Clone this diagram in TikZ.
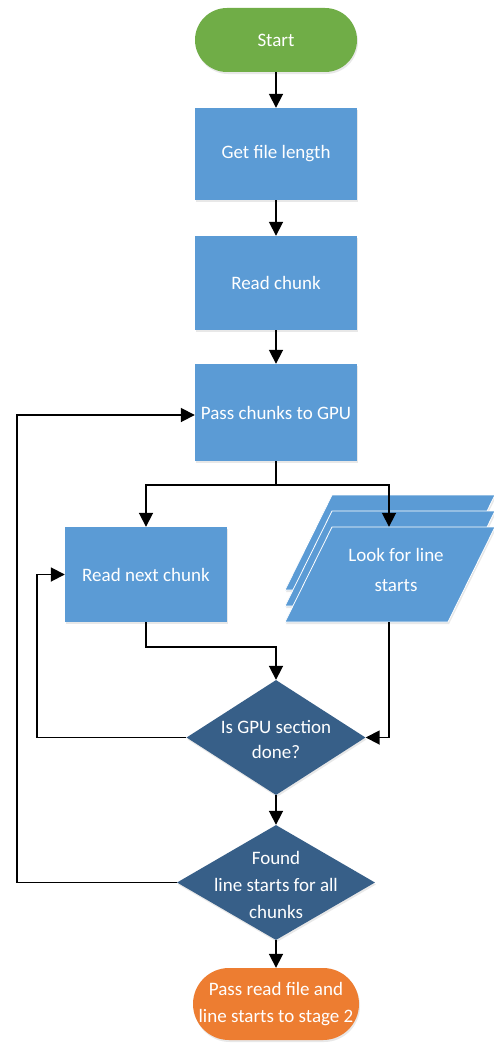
\documentclass[tikz,border=0pt]{standalone}
\usepackage{fontspec}
\setmainfont{Carlito}
\usetikzlibrary{shapes.geometric,arrows.meta,shadows}
\definecolor{cgreen}{HTML}{70AD47}
\definecolor{cblue}{HTML}{5B9BD5}
\definecolor{cdark}{HTML}{375F88}
\definecolor{corange}{HTML}{ED7D31}
\tikzset{
  shd/.style={drop shadow={opacity=0.18,shadow xshift=1pt,shadow yshift=-2pt}},
  txt/.style={text=white,font=\fontsize{19}{27}\selectfont,align=center},
  pill/.style={shd,txt,rectangle,inner sep=0pt},
  boxn/.style={shd,txt,rectangle,fill=cblue,minimum width=162pt,inner sep=0pt},
  dec/.style={shd,diamond,fill=cdark,inner sep=0pt},
  arr/.style={-{Triangle[width=14pt,length=14pt]},line width=1.8pt},
  ln/.style={line width=1.8pt}
}
\begin{document}
\begin{tikzpicture}[x=1pt,y=-1pt]
\useasboundingbox[fill=white] (0,0) rectangle (493,1049);
\node[pill,fill=cgreen,minimum width=162pt,minimum height=64pt,rounded corners=32pt] (start) at (276,40) {Start};
\node[boxn,minimum height=92pt] (gfl) at (276,154) {Get file length};
\node[boxn,minimum height=94pt] (rc) at (276,283) {Read chunk};
\node[boxn,minimum height=97pt] (pass) at (276,412.5) {Pass chunks to GPU};
\node[boxn,minimum height=95pt] (rnc) at (146,574.5) {Read next chunk};
% stacked parallelograms
\foreach \dy in {-32,-16} {
  \fill[cblue,draw=white,line width=0.8pt,shd] (332,527+\dy) -- (495,527+\dy) -- (448,622+\dy) -- (285,622+\dy) -- cycle;
}
\fill[cblue,draw=white,line width=0.8pt,shd] (332,527) -- (495,527) -- (448,622) -- (285,622) -- cycle;
\node[minimum width=208pt,minimum height=95pt,inner sep=0pt] (look) at (389,574.5) {};
\node[txt,font=\fontsize{19}{30}\selectfont] (looktxt) at (396,570) {Look for line\\starts};
\node[dec,minimum width=179pt,minimum height=115pt] (d1) at (276,737.5) {};
\node[txt,font=\fontsize{19}{25}\selectfont] (d1t) at (276,739.5) {Is GPU section\\done?};
\node[dec,minimum width=198pt,minimum height=115pt] (d2) at (276,882.5) {};
\node[txt] (d2t) at (276,885) {Found\\line starts for all\\chunks};
\node[pill,fill=corange,minimum width=166pt,minimum height=72pt,rounded corners=36pt] (end) at (276,1004) {Pass read file and\\line starts to stage 2};
% connectors
\coordinate (br) at (276,485);
\coordinate (j1) at (146,647);
\coordinate (l1) at (37,737.5);
\coordinate (l2) at (17,882.5);
\draw[arr] (start) -- (gfl);
\draw[arr] (gfl) -- (rc);
\draw[arr] (rc) -- (pass);
\draw[ln] (pass.south) -- (br);
\draw[arr] (br) -| (rnc.north);
\draw[arr] (br) -| (look.north);
\draw[arr] (rnc.south) -- (j1) -| (d1.north);
\draw[arr] (look.south) |- (d1.east);
\draw[arr] (d1.west) -- (l1) |- (rnc.west);
\draw[arr] (d1.south) -- (d2.north);
\draw[arr] (d2.west) -- (l2) |- ([yshift=-2.5pt]pass.west);
\draw[arr] (d2.south) -- (end.north);
\end{tikzpicture}
\end{document}
